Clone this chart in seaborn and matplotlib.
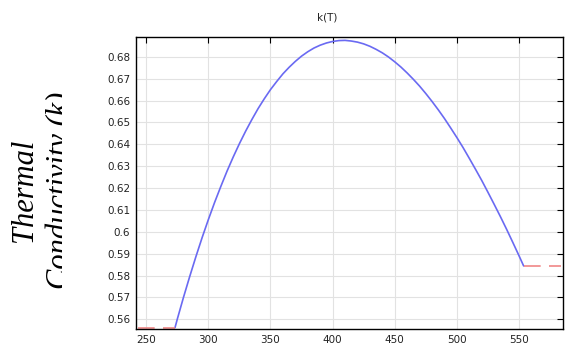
import matplotlib
matplotlib.use("Agg")
import matplotlib.pyplot as plt
import seaborn as sns
import pandas as pd
from matplotlib.ticker import FixedLocator, FuncFormatter
from matplotlib.patches import Rectangle

# Data
T_main = [273.15, 275, 280, 285, 290, 295, 300, 305, 310, 315, 320, 325, 330,
          335, 340, 345, 350, 355, 360, 365, 370, 375, 380, 385, 390, 395,
          400, 405, 410, 415, 420, 425, 430, 435, 440, 445, 450, 455, 460,
          465, 470, 475, 480, 485, 490, 495, 500, 505, 510, 515, 520, 525,
          530, 535, 540, 545, 550, 553.75]
k_main = [0.5562, 0.5601, 0.5701, 0.5796, 0.5887, 0.5974, 0.6056, 0.6134,
          0.6207, 0.6277, 0.6342, 0.6403, 0.6460, 0.6513, 0.6563, 0.6608,
          0.6650, 0.6687, 0.6722, 0.6752, 0.6779, 0.6803, 0.6823, 0.6840,
          0.6853, 0.6863, 0.6870, 0.6874, 0.6875, 0.6872, 0.6867, 0.6859,
          0.6848, 0.6834, 0.6818, 0.6799, 0.6777, 0.6753, 0.6726, 0.6697,
          0.6666, 0.6632, 0.6596, 0.6558, 0.6518, 0.6475, 0.6431, 0.6385,
          0.6336, 0.6286, 0.6235, 0.6181, 0.6126, 0.6070, 0.6012, 0.5952,
          0.5891, 0.5844]
T_low = [243.15, 273.15]
k_low = [0.5562, 0.5562]
T_high = [553.75, 583.75]
k_high = [0.5844, 0.5844]
x_ticks = [250, 300, 350, 400, 450, 500, 550]
y_ticks = [0.56, 0.57, 0.58, 0.59, 0.60, 0.61, 0.62, 0.63, 0.64, 0.65, 0.66, 0.67, 0.68]
title = "k(T)"
ylabel = "Thermal\nConductivity (k)"

sns.set_style("white")
plt.rcParams['font.family'] = ['DejaVu Sans']

fig = plt.figure(figsize=(5.75, 3.5), dpi=100)
ax = fig.add_axes([0.236, 0.059, 0.7426, 0.8344])

df_main = pd.DataFrame({"T": T_main, "k": k_main})
df_low = pd.DataFrame({"T": T_low, "k": k_low})
df_high = pd.DataFrame({"T": T_high, "k": k_high})

sns.lineplot(data=df_main, x="T", y="k", ax=ax, color="#6a6af2", lw=1.2)
for d in (df_low, df_high):
    sns.lineplot(data=d, x="T", y="k", ax=ax, color="#f08686", lw=1.2,
                 dashes=False, linestyle=(0, (10, 5)))

ax.set_xlim(241.5, 585.2)
ax.set_ylim(0.5554, 0.6889)
ax.xaxis.set_major_locator(FixedLocator(x_ticks))
ax.yaxis.set_major_locator(FixedLocator(y_ticks))
ax.yaxis.set_major_formatter(FuncFormatter(lambda v, p: f"{round(v, 2):g}"))
ax.set_xlabel("")
ax.set_ylabel("")
ax.grid(True, color="#e2e2e2", lw=0.8)
ax.set_axisbelow(True)
for s in ax.spines.values():
    s.set_color("black")
    s.set_linewidth(1.0)
ax.tick_params(direction="in", length=4, width=0.8, top=True, right=True,
               labelsize=7.5, labelcolor="#222222", color="black", pad=4)

fig.text(0.569, 0.951, title, ha="center", va="center", fontsize=7.5, color="#222222")

fig.text(10 / 575, 0.455, ylabel, rotation=90, ha="left", va="center",
         fontsize=22, fontfamily="Liberation Serif", style="italic",
         linespacing=1.3, multialignment="center", color="black", zorder=1)
# the label is cut off on its right side in the reference
fig.add_artist(Rectangle((62 / 575, 0), 38 / 575, 1, transform=fig.transFigure,
                         facecolor="white", edgecolor="none", zorder=2))

fig.savefig("out.png", dpi=100)
